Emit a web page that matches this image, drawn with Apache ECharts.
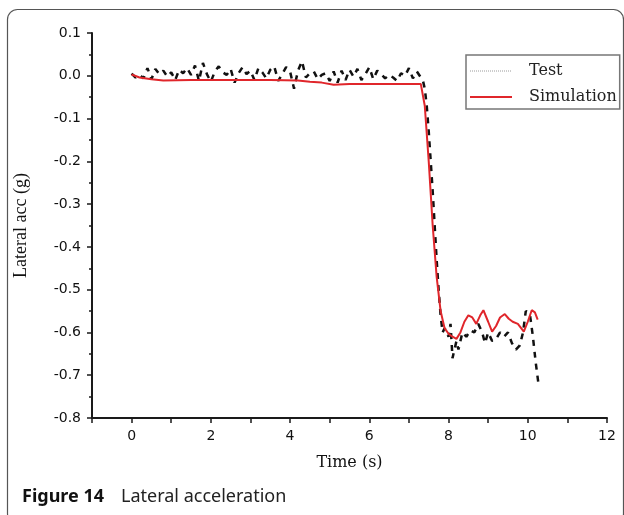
<!DOCTYPE html>
<html>
<head>
<meta charset="utf-8">
<script src="https://cdn.jsdelivr.net/npm/echarts@6/dist/echarts.min.js"></script>
<style>
html,body{margin:0;padding:0;background:#fff;}
#chart{width:624px;height:515px;}
</style>
</head>
<body>
<div id="chart"></div>
<script>
// ---- data ----
const testTime = [
  0.0,0.1,0.2,0.3,0.4,0.5,0.6,0.7,0.8,0.9,
  1.0,1.1,1.2,1.3,1.4,1.5,1.6,1.7,1.8,1.9,
  2.0,2.1,2.2,2.3,2.4,2.5,2.6,2.7,2.8,2.9,
  3.0,3.1,3.2,3.3,3.4,3.5,3.6,3.7,3.8,3.9,
  4.0,4.1,4.2,4.3,4.4,4.5,4.6,4.7,4.8,4.9,
  5.0,5.1,5.2,5.3,5.4,5.5,5.6,5.7,5.8,5.9,
  6.0,6.1,6.2,6.3,6.4,6.5,6.6,6.7,6.8,6.9,
  7.0,7.1,7.2,7.3,
  7.35,7.4,7.45,7.5,7.55,7.6,7.65,7.7,7.75,7.8,7.85,7.9,
  8.0,8.05,8.1,8.2,8.25,8.35,8.45,8.55,8.65,8.75,8.85,8.92,
  9.0,9.1,9.2,9.3,9.4,9.5,9.6,9.7,9.8,9.88,9.95,10.05,10.13,10.2,10.27
];
const testValue = [
  0.005,-0.004,0.002,-0.006,0.018,-0.008,0.016,0.004,0.012,-0.002,
  0.008,-0.010,0.014,0.006,0.018,0.002,0.024,-0.012,0.030,0.004,
  -0.014,0.010,0.022,0.008,0.002,0.016,-0.016,0.006,0.020,0.004,
  0.012,-0.010,0.018,0.008,-0.006,0.014,0.022,-0.012,0.004,0.020,
  0.010,-0.030,0.012,0.034,-0.004,0.006,0.010,-0.008,0.002,0.006,
  -0.012,0.010,-0.016,0.012,-0.010,0.014,-0.002,0.016,-0.010,0.004,
  0.020,-0.008,0.012,0.004,-0.006,0.002,-0.004,-0.012,0.006,0.000,
  0.018,-0.006,0.010,-0.004,
  -0.010,-0.030,-0.070,-0.130,-0.200,-0.270,-0.350,-0.430,-0.500,-0.560,-0.600,-0.590,
  -0.610,-0.580,-0.660,-0.620,-0.640,-0.600,-0.610,-0.595,-0.600,-0.580,-0.600,-0.625,
  -0.600,-0.620,-0.615,-0.600,-0.610,-0.600,-0.625,-0.640,-0.630,-0.600,-0.550,-0.555,-0.610,-0.670,-0.720
];
const simTime = [0,0.2,0.5,0.8,1.5,2.5,3.5,4.2,4.5,4.8,5.1,5.5,6.5,7.3,7.4,7.5,7.6,7.7,7.8,7.9,8.0,8.1,8.2,8.3,8.4,8.5,8.6,8.7,8.8,8.88,9.0,9.1,9.2,9.3,9.42,9.52,9.62,9.75,9.9,10.0,10.1,10.18,10.25];
const simValue = [0.003,-0.004,-0.008,-0.011,-0.010,-0.010,-0.010,-0.011,-0.014,-0.016,-0.021,-0.019,-0.019,-0.019,-0.07,-0.2,-0.35,-0.47,-0.55,-0.59,-0.603,-0.61,-0.615,-0.6,-0.575,-0.56,-0.565,-0.58,-0.56,-0.548,-0.575,-0.598,-0.585,-0.565,-0.557,-0.568,-0.575,-0.58,-0.598,-0.575,-0.548,-0.553,-0.57];
const seriesNames = ['Test','Simulation'];
const xLabelValues = [0,2,4,6,8,10,12];

const testData = testTime.map((t,i)=>[t,testValue[i]]);
const simData = simTime.map((t,i)=>[t,simValue[i]]);

const chart = echarts.init(document.getElementById('chart'), null, {renderer:'canvas'});
const axisCol = '#1a1a1a';
chart.setOption({
  animation:false,
  backgroundColor:'#fff',
  grid:{left:92,right:17,top:33,bottom:97,containLabel:false},
  xAxis:{
    type:'value',min:-1,max:12,interval:1,
    name:'Time (s)',nameLocation:'middle',nameGap:37,
    nameTextStyle:{fontFamily:'DejaVu Serif',fontSize:16,color:'#111'},
    axisLine:{show:true,onZero:false,lineStyle:{color:axisCol,width:2}},
    axisTick:{show:true,inside:false,length:5,lineStyle:{color:axisCol,width:1.5}},
    axisLabel:{margin:11,fontFamily:'DejaVu Sans',fontSize:14,color:'#111',
      formatter:v=> xLabelValues.indexOf(Math.round(v))>=0 && Math.abs(v-Math.round(v))<1e-6 ? String(Math.round(v)) : ''},
    splitLine:{show:false}
  },
  yAxis:{
    type:'value',min:-0.8,max:0.1,interval:0.1,
    name:'Lateral acc (g)',nameLocation:'middle',nameGap:62,nameRotate:90,
    nameTextStyle:{fontFamily:'Liberation Serif',fontSize:18,color:'#111'},
    axisLine:{show:true,onZero:false,lineStyle:{color:axisCol,width:2}},
    axisTick:{show:true,inside:false,length:5,lineStyle:{color:axisCol,width:1.5}},
    minorTick:{show:true,splitNumber:2,length:3,lineStyle:{color:axisCol,width:1.5}},
    axisLabel:{margin:11,fontFamily:'DejaVu Sans',fontSize:14,color:'#111',
      formatter:v=>{const r=Math.round(v*10)/10; return (Math.abs(r)<1e-9?0:r).toFixed(1);}},
    splitLine:{show:false}
  },
  legend:{
    orient:'vertical',left:466,top:55,
    padding:[6,3,2,3],itemGap:6,itemWidth:42,itemHeight:14,
    borderColor:'#777',borderWidth:1.5,backgroundColor:'#fff',
    itemStyle:{opacity:0},
    textStyle:{fontFamily:'DejaVu Serif',fontSize:16,color:'#222',lineHeight:20,padding:[0,0,0,12]},
    data:[
      {name:seriesNames[0],itemStyle:{opacity:0},lineStyle:{color:'#9a9a9a',type:'dotted',width:1}},
      {name:seriesNames[1],itemStyle:{opacity:0}}
    ]
  },
  series:[
    {name:seriesNames[0],type:'line',data:testData,symbol:'none',showSymbol:false,
     lineStyle:{color:'#111',width:2.5,type:[6,6]},itemStyle:{color:'#111'},z:2},
    {name:seriesNames[1],type:'line',data:simData,symbol:'none',showSymbol:false,
     lineStyle:{color:'#e0262b',width:2},itemStyle:{color:'#e0262b'},z:3}
  ],
  graphic:[
    {type:'rect',left:5,top:7,shape:{width:616,height:514,r:10},
     style:{fill:'none',stroke:'#555',lineWidth:1.2},silent:true},
    {type:'text',left:22,top:488,style:{text:'Figure 14',fontFamily:'Noto Sans',fontWeight:'bold',fontSize:18,fill:'#111'}},
    {type:'text',left:121,top:488,style:{text:'Lateral acceleration',fontFamily:'Noto Sans',fontSize:18,fill:'#222'}}
  ]
});
</script>
</body>
</html>
